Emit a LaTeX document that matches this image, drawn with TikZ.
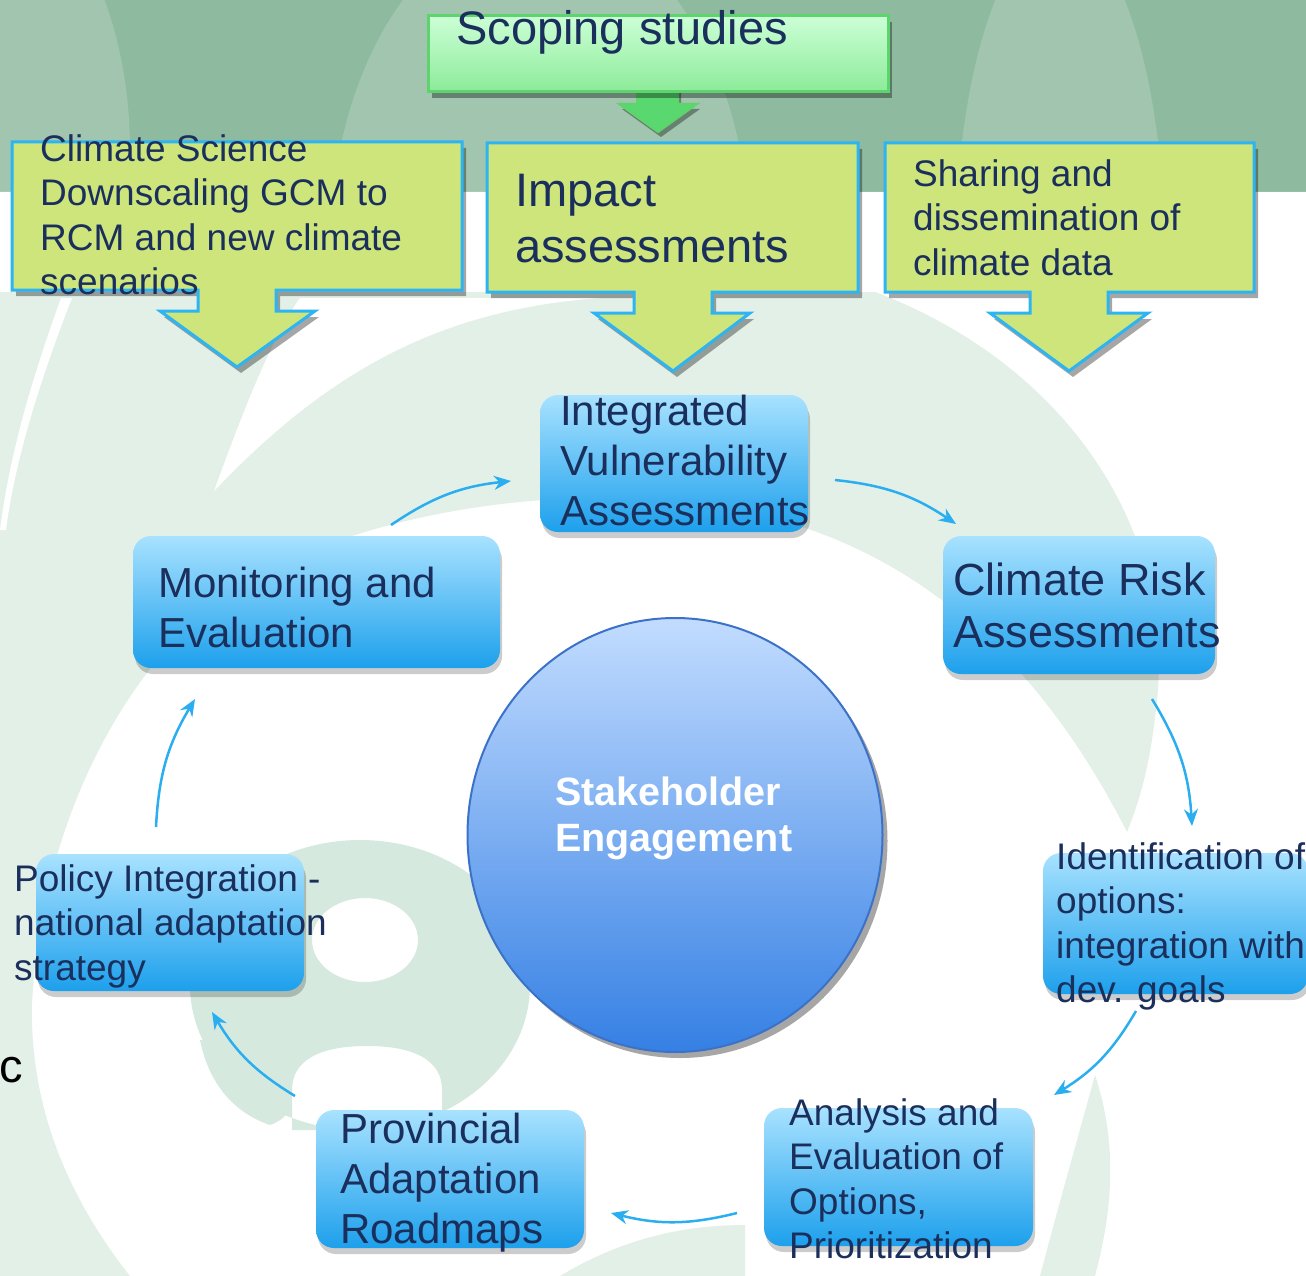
\documentclass[tikz,border=0pt]{standalone}
\usepackage{fontspec}
\setmainfont{Liberation Sans}
\usetikzlibrary{arrows.meta,shadows,shapes.geometric}

\definecolor{navy}{HTML}{1B2F5C}
\definecolor{banddark}{HTML}{8EBA9F}
\definecolor{bandlight}{HTML}{A1C5AE}
\definecolor{pale}{HTML}{E3F0E8}
\definecolor{paledark}{HTML}{D6E9DE}
\definecolor{lime}{HTML}{CDE57A}
\definecolor{skyline}{HTML}{2DB4F3}
\definecolor{arrowblue}{HTML}{2AAEF0}
\definecolor{boxtop}{HTML}{A8E2FF}
\definecolor{boxbot}{HTML}{1DA0EC}
\definecolor{mint}{HTML}{CCFFD6}
\definecolor{mintdark}{HTML}{8CEB99}
\definecolor{mintline}{HTML}{5ED46D}
\definecolor{arrowgreen}{HTML}{58D86E}
\definecolor{balltop}{HTML}{C2DCFF}
\definecolor{ballbot}{HTML}{3580E4}
\definecolor{ballline}{HTML}{3B72C8}

\tikzset{
  inputbox/.style={fill=lime, draw=skyline, line width=3pt, line join=miter,
    drop shadow={shadow xshift=4pt, shadow yshift=-6pt, fill=black, opacity=.35}},
  stepbox/.style={rounded corners=18pt, top color=boxtop, bottom color=boxbot,
    inner sep=0pt, drop shadow={shadow xshift=2pt, shadow yshift=-6pt, fill=black, opacity=.2}},
  steptext/.style={anchor=base west, align=left, inner sep=0pt, text=navy},
  cyc/.style={draw=arrowblue, line width=2.5pt, -{Stealth[length=17pt,width=14pt]}, bend left=14},
  big/.style={font=\fontsize{47}{56}\selectfont},
  mid/.style={font=\fontsize{42}{50}\selectfont},
  small/.style={font=\fontsize{37}{44.5}\selectfont}
}

\begin{document}
\begin{tikzpicture}[x=1pt,y=-1pt]
	\useasboundingbox (0,0) rectangle (1306,1276);

	% green band along the top
	\fill[banddark] (0,0) rectangle (1306,192);
	\begin{scope}
		\clip (0,0) rectangle (1306,192);
		\fill[bandlight] (-60,150) ellipse (190 and 300);
		\fill[bandlight] (540,250) ellipse (210 and 330);
		\fill[bandlight] (1060,260) ellipse (105 and 330);
	\end{scope}

	% pale swirl behind the cycle
	\fill[pale] (0,192) -- (1306,192) -- (1306,290) -- (870,290)
		.. controls (1060,360) and (1170,520) .. (1158,689)
		.. controls (1152,760) and (1140,800) .. (1127,832)
		.. controls (1060,700) and (950,560) .. (760,515)
		.. controls (560,470) and (330,520) .. (214,601)
		.. controls (110,690) and (40,840) .. (32,1005)
		.. controls (30,1110) and (70,1200) .. (130,1276)
		-- (0,1276) -- cycle;
	\fill[white] (0,292) -- (1306,292) -- (1306,192) -- (0,192) -- cycle;
	\fill[white] (214,491) .. controls (320,380) and (430,310) .. (600,298)
		-- (300,298) .. controls (270,340) and (240,420) .. (214,491);
	\fill[white] (61,298) -- (72,298) .. controls (40,380) and (15,460) .. (6,530) -- (0,530)
		.. controls (10,450) and (35,370) .. (61,298);
	\fill[pale] (1095,1075) .. controls (1120,1150) and (1110,1220) .. (1095,1276)
		-- (1040,1276) .. controls (1060,1200) and (1080,1130) .. (1095,1075);
	\fill[pale] (560,1276) .. controls (620,1240) and (680,1225) .. (745,1225) -- (745,1276) -- cycle;
	% ring under the policy box
	\fill[paledark, even odd rule] (360,985) ellipse (170 and 145)
		(365,940) ellipse (53 and 42)
		(292,1130) -- (292,1090) .. controls (292,1060) and (320,1046) .. (367,1046)
		.. controls (414,1046) and (442,1060) .. (442,1090) -- (442,1130) -- cycle;
	\fill[paledark] (200,1040) .. controls (210,1090) and (240,1115) .. (270,1125)
		.. controls (285,1120) and (292,1110) .. (292,1095) -- (292,1040) -- cycle;

	% scoping studies feeding the impact assessments
	\draw[fill=arrowgreen, draw=mintline, line width=2pt, line join=miter,
		drop shadow={shadow xshift=3pt, shadow yshift=-5pt, fill=black, opacity=.35}]
		(637,88) -- (678,88) -- (678,104) -- (697,104) -- (658,132) -- (619,104) -- (637,104) -- cycle;
	\node[draw=mintline, line width=3pt, top color=mint, bottom color=mintdark,
		minimum width=460pt, minimum height=76pt, inner sep=0pt,
		drop shadow={shadow xshift=4pt, shadow yshift=-6pt, fill=black, opacity=.35}]
		(scopebox) at (658,54) {};
	\node[steptext, big] (scopetxt) at (456,45) {Scoping studies};

	% the three inputs, box and arrow in one outline
	\draw[inputbox] (12,142) -- (462,142) -- (462,290) -- (276,290) -- (276,311) -- (315,311)
		-- (237,367) -- (160,311) -- (198,311) -- (198,290) -- (12,290) -- cycle;
	\draw[inputbox] (487,143) -- (858,143) -- (858,292) -- (712,292) -- (712,313) -- (750,313)
		-- (673,371) -- (594,313) -- (634,313) -- (634,292) -- (487,292) -- cycle;
	\draw[inputbox] (885,143) -- (1254,143) -- (1254,292) -- (1108,292) -- (1108,313) -- (1148,313)
		-- (1069,371) -- (990,313) -- (1030,313) -- (1030,292) -- (885,292) -- cycle;
	% base west sits on the last line
	\node[steptext, small] (gcmtxt) at (40,294.5) {Climate Science\\Downscaling GCM to\\RCM and new climate\\scenarios};
	\node[steptext, big] (impacttxt) at (515,262) {Impact\\assessments};
	\node[steptext, small] (sharetxt) at (913,275) {Sharing and\\dissemination of\\climate data};

	% the cycle
	\node[stepbox, minimum width=268pt, minimum height=137pt] (ivabox) at (674,463.5) {};
	\node[stepbox, minimum width=367pt, minimum height=132pt] (mebox) at (316.5,602) {};
	\node[stepbox, minimum width=272pt, minimum height=138pt] (crabox) at (1079,605) {};
	\node[stepbox, minimum width=265pt, minimum height=141pt] (idbox) at (1175.5,923.5) {};
	\node[stepbox, minimum width=269pt, minimum height=138pt] (aebox) at (898.5,1177) {};
	\node[stepbox, minimum width=268pt, minimum height=138pt] (parbox) at (450,1179) {};
	\node[stepbox, minimum width=268pt, minimum height=137pt] (pibox) at (170,922.5) {};

	\node[steptext, mid] (ivatxt) at (560,525) {Integrated\\Vulnerability\\Assessments};
	\node[steptext, mid] (metxt) at (158,647) {Monitoring and\\Evaluation};
	\node[steptext, font=\fontsize{45}{52.5}\selectfont] (cratxt) at (953,647.5) {Climate Risk\\Assessments};
	\node[steptext, small] (idtxt) at (1056,1002.5) {Identification of\\options:\\integration with\\dev. goals};
	\node[steptext, small] (aetxt) at (789,1258.5) {Analysis and\\Evaluation of\\Options,\\Prioritization};
	\node[steptext, mid] (partxt) at (340,1243) {Provincial\\Adaptation\\Roadmaps};
	\node[steptext, small] (pitxt) at (14,980) {Policy Integration -\\national adaptation\\strategy};

	% stakeholder engagement in the middle
	\node[ellipse, draw=ballline, line width=2pt, top color=balltop, bottom color=ballbot,
		minimum width=415pt, minimum height=434pt, inner sep=0pt,
		drop shadow={shadow xshift=5pt, shadow yshift=-6pt, fill=black, opacity=.35}]
		(seball) at (675,835) {};
	\node[anchor=base west, align=left, inner sep=0pt, text=white,
		font=\fontsize{39.5}{46}\selectfont\bfseries] (setxt) at (555,851) {Stakeholder\\Engagement};

	\node[anchor=base west, inner sep=0pt, font=\fontsize{47}{50}\selectfont] (cmark) at (-1,1082) {c};

	% arrows round the cycle
	\coordinate (me-a) at (391,525);   \coordinate (iva-b) at (511,481);
	\coordinate (iva-a) at (835,480);  \coordinate (cra-b) at (956,524);
	\coordinate (cra-a) at (1152,699); \coordinate (id-b) at (1192,826);
	\coordinate (id-a) at (1136,1011); \coordinate (ae-b) at (1054,1095);
	\coordinate (ae-a) at (737,1213);  \coordinate (par-b) at (611,1213);
	\coordinate (par-a) at (295,1096); \coordinate (pi-b) at (212,1012);
	\coordinate (pi-a) at (156,827);   \coordinate (me-b) at (195,699);
	\draw[cyc] (me-a) to (iva-b);
	\draw[cyc] (iva-a) to (cra-b);
	\draw[cyc] (cra-a) to (id-b);
	\draw[cyc] (id-a) to (ae-b);
	\draw[cyc] (ae-a) to (par-b);
	\draw[cyc] (par-a) to (pi-b);
	\draw[cyc] (pi-a) to (me-b);
\end{tikzpicture}
\end{document}
